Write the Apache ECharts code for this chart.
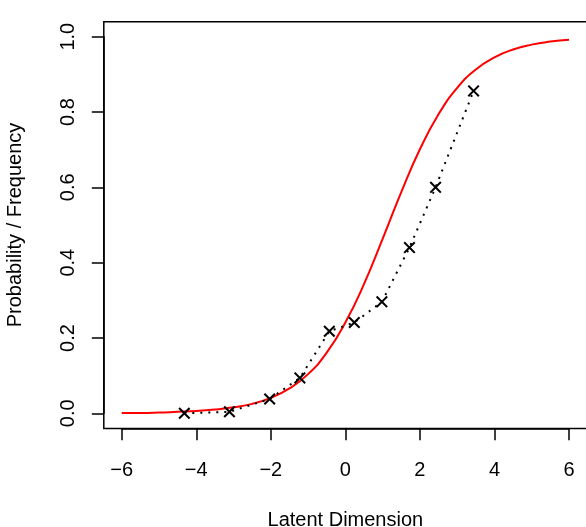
<!DOCTYPE html>
<html>
<head>
<meta charset="utf-8">
<script src="https://cdn.jsdelivr.net/npm/echarts@6/dist/echarts.min.js"></script>
<style>
  html, body { margin: 0; padding: 0; background: #fff; }
  #chart { width: 586px; height: 527px; }
</style>
</head>
<body>
<div id="chart"></div>
<script>
// Observed frequencies (black crosses, dotted line)
const obsX = [-4.32, -3.11, -2.03, -1.22, -0.43, 0.24, 0.98, 1.72, 2.42, 3.44];
const obsY = [0.000, 0.004, 0.038, 0.094, 0.218, 0.241, 0.296, 0.440, 0.600, 0.856];

// Model probability curve (red)
const curveX = [-6, -5.5, -5, -4.5, -4, -3.5, -3, -2.5, -2, -1.5, -1, -0.5, 0,
                0.5, 1, 1.5, 2, 2.5, 3, 3.5, 4, 4.5, 5, 5.5, 6];
const curveY = [0.001, 0.001, 0.002, 0.004, 0.006, 0.010, 0.016, 0.025, 0.041, 0.066,
                0.104, 0.161, 0.241, 0.343, 0.463, 0.587, 0.701, 0.794, 0.864, 0.913,
                0.945, 0.966, 0.979, 0.987, 0.992];

const xTicks = [-6, -4, -2, 0, 2, 4, 6];
const yTicks = [0.0, 0.2, 0.4, 0.6, 0.8, 1.0];
const xTitle = 'Latent Dimension';
const yTitle = 'Probability / Frequency';

const FONT = 'Liberation Sans, Arial, Helvetica, sans-serif';
const FS = 20;
const chart = echarts.init(document.getElementById('chart'), null, { renderer: 'canvas' });

const crossPath = 'path://M0,1.2L1.2,0L5,3.8L8.8,0L10,1.2L6.2,5L10,8.8L8.8,10L5,6.2L1.2,10L0,8.8L3.8,5Z';

chart.setOption({
  animation: false,
  backgroundColor: '#ffffff',
  grid: [
    { left: 103.8, top: 21.7, width: 483.1, height: 406.7, show: true, outerBoundsMode: 'none',
      containLabel: false, borderColor: '#000', borderWidth: 1.5, backgroundColor: 'transparent' },
    { left: 121.7, top: 36.7, width: 447.3, height: 376.6, outerBoundsMode: 'none', containLabel: false }
  ],
  xAxis: [
    { gridIndex: 0, type: 'value', show: false, min: 0, max: 1 },
    {
      gridIndex: 1, type: 'value', min: xTicks[0], max: xTicks[xTicks.length - 1], interval: 2,
      position: 'bottom', offset: 15,
      axisLine: { show: true, onZero: false, lineStyle: { color: '#000', width: 1.5 } },
      axisTick: { show: true, length: 12, lineStyle: { color: '#000', width: 1.5 } },
      splitLine: { show: false },
      axisLabel: { margin: 32, color: '#000', fontSize: FS, fontFamily: FONT,
        formatter: v => (v < 0 ? '\u2212' + Math.abs(v) : String(v)) },
      name: xTitle, nameLocation: 'middle', nameGap: 82,
      nameTextStyle: { color: '#000', fontSize: FS, fontFamily: FONT }
    }
  ],
  yAxis: [
    { gridIndex: 0, type: 'value', show: false, min: 0, max: 1 },
    {
      gridIndex: 1, type: 'value', min: yTicks[0], max: yTicks[yTicks.length - 1], interval: 0.2,
      position: 'left', offset: 17.9,
      axisLine: { show: true, onZero: false, lineStyle: { color: '#000', width: 1.5 } },
      axisTick: { show: true, length: 12, lineStyle: { color: '#000', width: 1.5 } },
      splitLine: { show: false },
      axisLabel: { margin: 25, rotate: 90, color: '#000', fontSize: FS, fontFamily: FONT,
        formatter: v => v.toFixed(1) },
      name: yTitle, nameLocation: 'middle', nameGap: 78, nameRotate: 90,
      nameTextStyle: { color: '#000', fontSize: FS, fontFamily: FONT }
    }
  ],
  series: [
    {
      type: 'line', xAxisIndex: 1, yAxisIndex: 1,
      data: curveX.map((x, i) => [x, curveY[i]]),
      smooth: true, showSymbol: false, symbol: 'none',
      lineStyle: { color: '#ff0000', width: 2 },
      z: 3
    },
    {
      type: 'line', xAxisIndex: 1, yAxisIndex: 1,
      data: obsX.map((x, i) => [x, obsY[i]]),
      symbol: crossPath, symbolSize: 12, showSymbol: true,
      itemStyle: { color: '#000' },
      lineStyle: { color: '#000', width: 2, type: [2, 6] },
      z: 4
    }
  ]
});
</script>
</body>
</html>
